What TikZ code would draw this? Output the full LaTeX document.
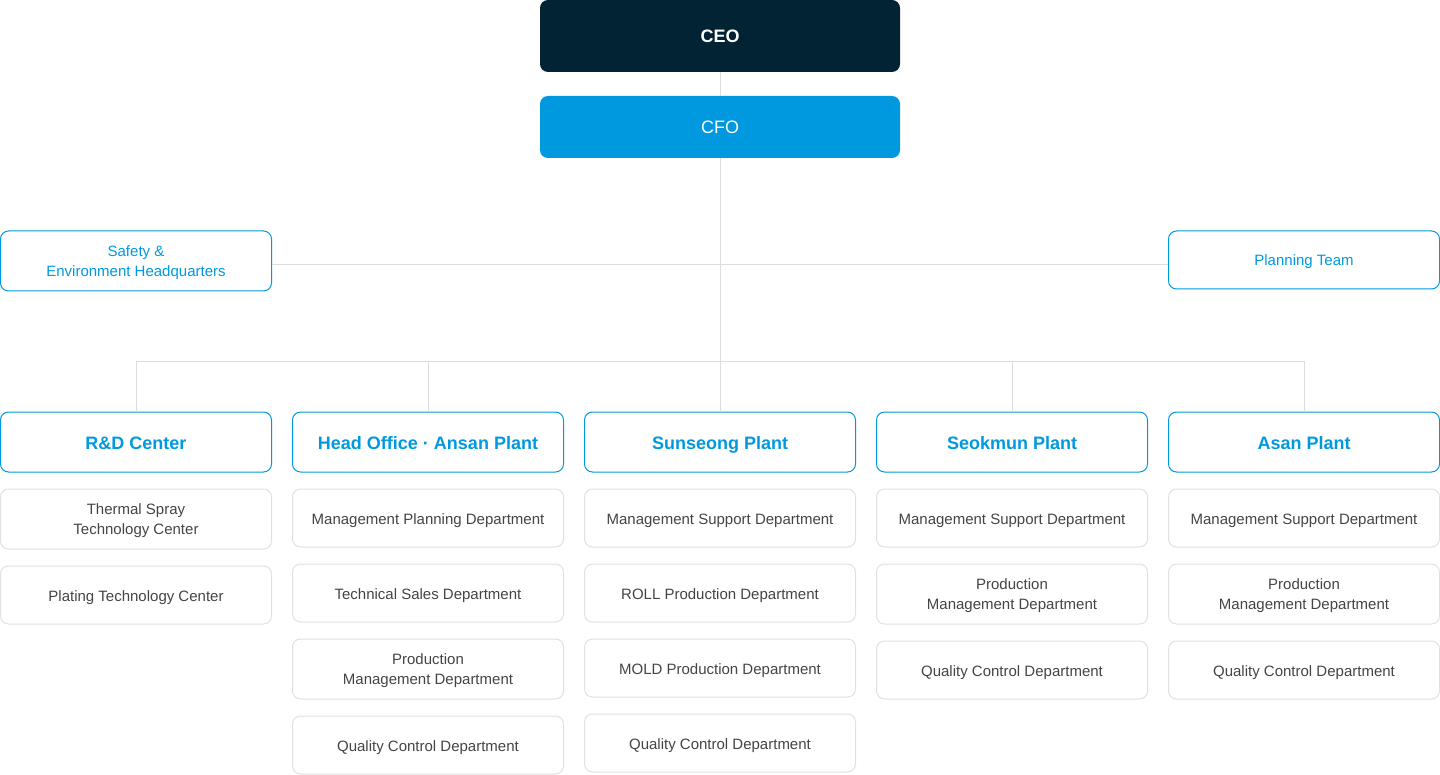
\documentclass[tikz,border=0pt]{standalone}
\usepackage{fontspec}
\setmainfont{Liberation Sans}
\definecolor{navy}{HTML}{022334}
\definecolor{brand}{HTML}{0099E0}
\definecolor{linegray}{HTML}{DDDDDD}
\definecolor{subborder}{HTML}{E0E0E0}
\definecolor{subtext}{HTML}{444444}
\newcommand\substrut{\rule[-4pt]{0pt}{20pt}}
\newcommand\plantstrut{\rule[-4pt]{0pt}{22pt}}
\newcommand\topstrut{\rule{0pt}{15pt}}
\tikzset{
  box/.style={rectangle, rounded corners=8pt, inner sep=0pt, align=center, minimum width=271pt},
  topbox/.style={box, minimum width=360pt, text=white},
  bluebox/.style={box, draw=brand, line width=1pt, text=brand, font=\fontsize{15}{20}\selectfont,
    execute at begin node=\substrut, execute at end node=\substrut},
  plantbox/.style={box, draw=brand, line width=1pt, text=brand, font=\fontsize{18}{22}\bfseries, minimum height=60pt,
    execute at begin node=\plantstrut, execute at end node=\plantstrut},
  subbox/.style={box, draw=subborder, line width=1pt, text=subtext, font=\fontsize{15}{20}\selectfont,
    execute at begin node=\substrut, execute at end node=\substrut},
  conn/.style={draw=linegray, line width=1pt}
}
\begin{document}
\begin{tikzpicture}[x=1pt,y=-1pt]
\useasboundingbox (0,0) rectangle (1440,775);
% top
\node[topbox, fill=navy, minimum height=72pt, font=\fontsize{18}{22}\bfseries] (ceo) at (720,36) {CEO};
\node[topbox, fill=brand, minimum height=62pt, font=\fontsize{18}{22}\selectfont] (cfo) at (720,127) {CFO};
\node[bluebox, minimum height=60pt] (safety) at (136,261) {\topstrut Safety \&\\Environment Headquarters};
\node[bluebox, minimum height=58pt] (plan) at (1304,260) {Planning Team};
\coordinate (hq) at (720,265);
\coordinate (bus) at (720,362);
% plants
\node[plantbox] (rd) at (136,442) {R\&D Center};
\node[plantbox] (hoa) at (428,442) {Head Office · Ansan Plant};
\node[plantbox] (sun) at (720,442) {Sunseong Plant};
\node[plantbox] (seo) at (1012,442) {Seokmun Plant};
\node[plantbox] (asan) at (1304,442) {Asan Plant};
% R&D
\node[subbox, minimum height=60pt] (rd1) at (136,519) {\topstrut Thermal Spray\\Technology Center};
\node[subbox, minimum height=58pt] (rd2) at (136,595) {Plating Technology Center};
% Head office
\node[subbox, minimum height=58pt] (hoa1) at (428,518) {Management Planning Department};
\node[subbox, minimum height=58pt] (hoa2) at (428,593) {Technical Sales Department};
\node[subbox, minimum height=60pt] (hoa3) at (428,669) {\topstrut Production\\Management Department};
\node[subbox, minimum height=58pt] (hoa4) at (428,745) {Quality Control Department};
% Sunseong
\node[subbox, minimum height=58pt] (sun1) at (720,518) {Management Support Department};
\node[subbox, minimum height=58pt] (sun2) at (720,593) {ROLL Production Department};
\node[subbox, minimum height=58pt] (sun3) at (720,668) {MOLD Production Department};
\node[subbox, minimum height=58pt] (sun4) at (720,743) {Quality Control Department};
% Seokmun
\node[subbox, minimum height=58pt] (seo1) at (1012,518) {Management Support Department};
\node[subbox, minimum height=60pt] (seo2) at (1012,594) {\topstrut Production\\Management Department};
\node[subbox, minimum height=58pt] (seo3) at (1012,670) {Quality Control Department};
% Asan
\node[subbox, minimum height=58pt] (asan1) at (1304,518) {Management Support Department};
\node[subbox, minimum height=60pt] (asan2) at (1304,594) {\topstrut Production\\Management Department};
\node[subbox, minimum height=58pt] (asan3) at (1304,670) {Quality Control Department};
% connectors
\draw[conn] (ceo.south) -- (cfo.north);
\draw[conn] (cfo.south) -- (sun.north);
\draw[conn] (safety.east |- hq) -- (plan.west |- hq);
\draw[conn] (rd.north) -- (rd.north |- bus) -- (asan.north |- bus) -- (asan.north);
\draw[conn] (hoa.north) -- (hoa.north |- bus);
\draw[conn] (seo.north) -- (seo.north |- bus);
\end{tikzpicture}
\end{document}
